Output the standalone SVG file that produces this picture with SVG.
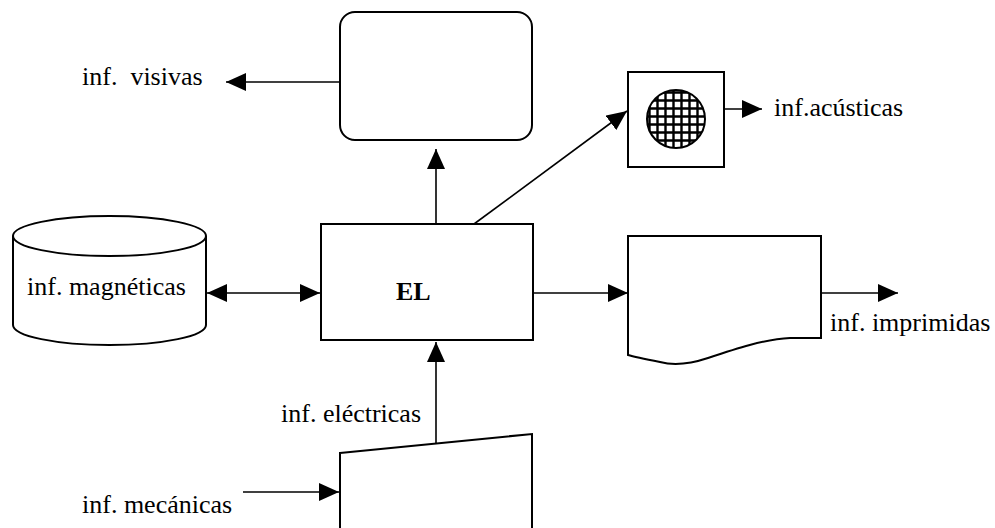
<svg xmlns="http://www.w3.org/2000/svg" width="995" height="528" viewBox="0 0 995 528">
<style>
.shape{fill:#fff;stroke:#000;stroke-width:2}
.conn{fill:none;stroke:#000;stroke-width:1.6}
.lbl{font-family:"Liberation Serif","Times New Roman",serif;font-size:26px;fill:#000}
.bold{font-weight:bold}
</style>
<defs>
<marker id="arr" markerUnits="userSpaceOnUse" markerWidth="20" markerHeight="18" refX="20" refY="9" orient="auto-start-reverse" viewBox="0 0 20 18">
<path d="M0,0 L20,9 L0,18 Z" fill="#000"/>
</marker>
<pattern id="grid" patternUnits="userSpaceOnUse" x="648" y="91" width="8" height="8">
<rect width="8" height="8" fill="#fff"/>
<path d="M1.5,0 V8 M0,1.5 H8" stroke="#000" stroke-width="2.4"/>
</pattern>
</defs>
<g id="connectors">
<path class="conn" d="M340,82 H226" marker-end="url(#arr)"/>
<path class="conn" d="M436,224 V149" marker-end="url(#arr)"/>
<path class="conn" d="M474,224 L627,111" marker-end="url(#arr)"/>
<path class="conn" d="M724,109 H762" marker-end="url(#arr)"/>
<path class="conn" d="M207,293 H320" marker-start="url(#arr)" marker-end="url(#arr)"/>
<path class="conn" d="M533,293 H628" marker-end="url(#arr)"/>
<path class="conn" d="M821,293 H898" marker-end="url(#arr)"/>
<path class="conn" d="M436,443 V342" marker-end="url(#arr)"/>
<path class="conn" d="M243,492 H339" marker-end="url(#arr)"/>
</g>
<g id="display">
<rect class="shape" x="340" y="12" width="192" height="128" rx="15" ry="15"/>
</g>
<g id="speaker">
<rect class="shape" x="628" y="72" width="96" height="95"/>
<circle cx="676" cy="119" r="29" fill="url(#grid)" stroke="#000" stroke-width="2"/>
</g>
<g id="el">
<rect class="shape" x="321" y="224" width="212" height="116"/>
<text class="lbl bold" x="396" y="300">EL</text>
</g>
<g id="disk">
<path class="shape" d="M13,236 V325 A96.5,20 0 0 0 206,325 V236 A96.5,20 0 0 0 13,236 Z"/>
<path class="shape" fill="none" d="M13,236 A96.5,20 0 0 0 206,236"/>
<text class="lbl" x="27" y="295">inf. magnéticas</text>
</g>
<g id="printer">
<path class="shape" d="M628,236 H821 V338 H790 C765,339 735,349 708,358 C690,364 675,366 660,362 C645,359 635,357 628,355 Z"/>
</g>
<g id="keyboard">
<path class="shape" d="M340,453 L532,434 V530 H340 Z"/>
</g>
<g id="labels">
<text class="lbl" x="82" y="85" xml:space="preserve">inf.  visivas</text>
<text class="lbl" x="774" y="116">inf.acústicas</text>
<text class="lbl" x="830" y="331">inf. imprimidas</text>
<text class="lbl" x="281" y="422">inf. eléctricas</text>
<text class="lbl" x="82" y="513">inf. mecánicas</text>
</g>
</svg>
